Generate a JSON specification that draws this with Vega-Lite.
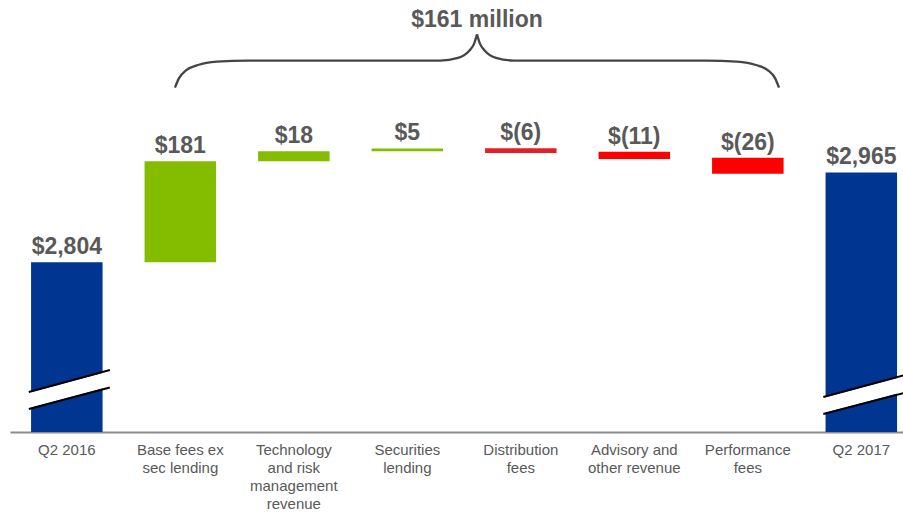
{
  "$schema": "https://vega.github.io/schema/vega-lite/v6.json",
  "width": 893,
  "height": 432,
  "autosize": {"type": "none"},
  "padding": {"left": 10, "top": 0, "right": 0, "bottom": 81},
  "background": "white",
  "config": {"view": {"stroke": null}, "font": "Liberation Sans"},
  "datasets": {
    "bars": [
      {"cat": "Q2 2016", "label": "$2,804", "start": 0, "end": 2804, "kind": "total"},
      {"cat": "Base fees ex|sec lending", "label": "$181", "start": 2804, "end": 2985, "kind": "up"},
      {"cat": "Technology|and risk|management|revenue", "label": "$18", "start": 2985, "end": 3003, "kind": "up"},
      {"cat": "Securities|lending", "label": "$5", "start": 3003, "end": 3008, "kind": "up"},
      {"cat": "Distribution|fees", "label": "$(6)", "start": 3008.5, "end": 3000, "kind": "down1"},
      {"cat": "Advisory and|other revenue", "label": "$(11)", "start": 3002.3, "end": 2989, "kind": "down"},
      {"cat": "Performance|fees", "label": "$(26)", "start": 2991.5, "end": 2962.5, "kind": "down"},
      {"cat": "Q2 2017", "label": "$2,965", "start": 0, "end": 2965, "kind": "total"}
    ],
    "breaks": [
      {"cat": "Q2 2016", "part": "gap", "ya": 2556.4, "yb": 2595.3},
      {"cat": "Q2 2016", "part": "line", "ya": 2571.7, "yb": 2611.0},
      {"cat": "Q2 2016", "part": "line", "ya": 2541.2, "yb": 2579.7},
      {"cat": "Q2 2017", "part": "gap", "ya": 2547.5, "yb": 2586.0},
      {"cat": "Q2 2017", "part": "line", "ya": 2562.7, "yb": 2602.0},
      {"cat": "Q2 2017", "part": "line", "ya": 2532.3, "yb": 2569.9}
    ],
    "brace": [
      {"side": "L", "u": 0.96, "v": 3117.0},
      {"side": "L", "u": 0.996, "v": 3134.0},
      {"side": "L", "u": 1.057, "v": 3148.0},
      {"side": "L", "u": 1.163, "v": 3157.5},
      {"side": "L", "u": 1.33, "v": 3163.5},
      {"side": "L", "u": 1.6, "v": 3165.5},
      {"side": "L", "u": 3.295, "v": 3165.5},
      {"side": "L", "u": 3.454, "v": 3170.3},
      {"side": "L", "u": 3.551, "v": 3182.8},
      {"side": "L", "u": 3.595, "v": 3195.3},
      {"side": "L", "u": 3.621, "v": 3212.5},
      {"side": "R", "u": 3.621, "v": 3212.5},
      {"side": "R", "u": 3.648, "v": 3195.3},
      {"side": "R", "u": 3.692, "v": 3182.8},
      {"side": "R", "u": 3.789, "v": 3170.3},
      {"side": "R", "u": 3.947, "v": 3165.5},
      {"side": "R", "u": 5.64, "v": 3165.5},
      {"side": "R", "u": 5.91, "v": 3163.5},
      {"side": "R", "u": 6.079, "v": 3157.5},
      {"side": "R", "u": 6.185, "v": 3148.0},
      {"side": "R", "u": 6.247, "v": 3134.0},
      {"side": "R", "u": 6.282, "v": 3117.0}
    ],
    "total": [
      {"u": 3.621, "v": 3226, "text": "$161 million"}
    ]
  },
  "layer": [
    {
      "layer": [
        {
          "data": {"name": "bars"},
          "mark": {"type": "bar", "clip": true},
          "encoding": {
            "x": {
              "field": "cat", "type": "nominal", "sort": null,
              "scale": {
                "domain": ["Q2 2016", "Base fees ex|sec lending", "Technology|and risk|management|revenue", "Securities|lending", "Distribution|fees", "Advisory and|other revenue", "Performance|fees", "Q2 2017"],
                "paddingInner": 0.37, "paddingOuter": 0.119, "align": 0.78, "round": false
              },
              "axis": {
                "title": null, "labelAngle": 0, "ticks": false,
                "domainColor": "#8c8c8c", "domainWidth": 2,
                "labelFont": "Liberation Sans", "labelFontSize": 15, "labelColor": "#595959",
                "labelPadding": 10, "labelLineHeight": 18, "labelLimit": 0,
                "labelExpr": "split(datum.label, '|')"
              }
            },
            "y": {"field": "start", "type": "quantitative", "scale": {"domain": [2500, 3274], "zero": false, "nice": false}, "axis": null},
            "y2": {"field": "end"},
            "color": {
              "field": "kind", "type": "nominal", "legend": null,
              "scale": {"domain": ["total", "up", "down1", "down"], "range": ["#003591", "#84BD00", "#E31E24", "#FF0000"]}
            }
          }
        },
        {
          "data": {"name": "breaks"},
          "transform": [{"filter": "datum.part === 'gap'"}],
          "mark": {"type": "rule", "color": "white", "strokeWidth": 15, "xOffset": -38, "x2Offset": 43},
          "encoding": {
            "x": {"field": "cat", "type": "nominal", "sort": null},
            "x2": {"field": "cat"},
            "y": {"field": "ya", "type": "quantitative", "scale": {"domain": [2500, 3274], "zero": false, "nice": false}},
            "y2": {"field": "yb"}
          }
        },
        {
          "data": {"name": "breaks"},
          "transform": [{"filter": "datum.part === 'line'"}],
          "mark": {"type": "rule", "color": "black", "strokeWidth": 2, "xOffset": -38, "x2Offset": 43},
          "encoding": {
            "x": {"field": "cat", "type": "nominal", "sort": null},
            "x2": {"field": "cat"},
            "y": {"field": "ya", "type": "quantitative", "scale": {"domain": [2500, 3274], "zero": false, "nice": false}},
            "y2": {"field": "yb"}
          }
        },
        {
          "data": {"name": "bars"},
          "transform": [{"calculate": "max(datum.start, datum.end)", "as": "top"}],
          "mark": {"type": "text", "dy": -8, "baseline": "alphabetic", "fontSize": 23, "fontWeight": "bold", "color": "#595959", "font": "Liberation Sans"},
          "encoding": {
            "x": {"field": "cat", "type": "nominal", "sort": null},
            "y": {"field": "top", "type": "quantitative", "scale": {"domain": [2500, 3274], "zero": false, "nice": false}},
            "text": {"field": "label"}
          }
        }
      ]
    },
    {
      "layer": [
        {
          "data": {"name": "brace"},
          "mark": {"type": "line", "interpolate": "monotone", "color": "#454545", "strokeWidth": 2.3},
          "encoding": {
            "x": {"field": "u", "type": "quantitative", "scale": {"domain": [-0.4934, 7.3744], "nice": false, "zero": false}, "axis": null},
            "y": {"field": "v", "type": "quantitative", "scale": {"domain": [2500, 3274], "zero": false, "nice": false}},
            "detail": {"field": "side"}
          }
        },
        {
          "data": {"name": "total"},
          "mark": {"type": "text", "baseline": "alphabetic", "fontSize": 23, "fontWeight": "bold", "color": "#595959", "font": "Liberation Sans"},
          "encoding": {
            "x": {"field": "u", "type": "quantitative", "scale": {"domain": [-0.4934, 7.3744], "nice": false, "zero": false}, "axis": null},
            "y": {"field": "v", "type": "quantitative", "scale": {"domain": [2500, 3274], "zero": false, "nice": false}},
            "text": {"field": "text"}
          }
        }
      ]
    }
  ],
  "resolve": {"scale": {"x": "independent"}, "axis": {"x": "independent"}}
}
